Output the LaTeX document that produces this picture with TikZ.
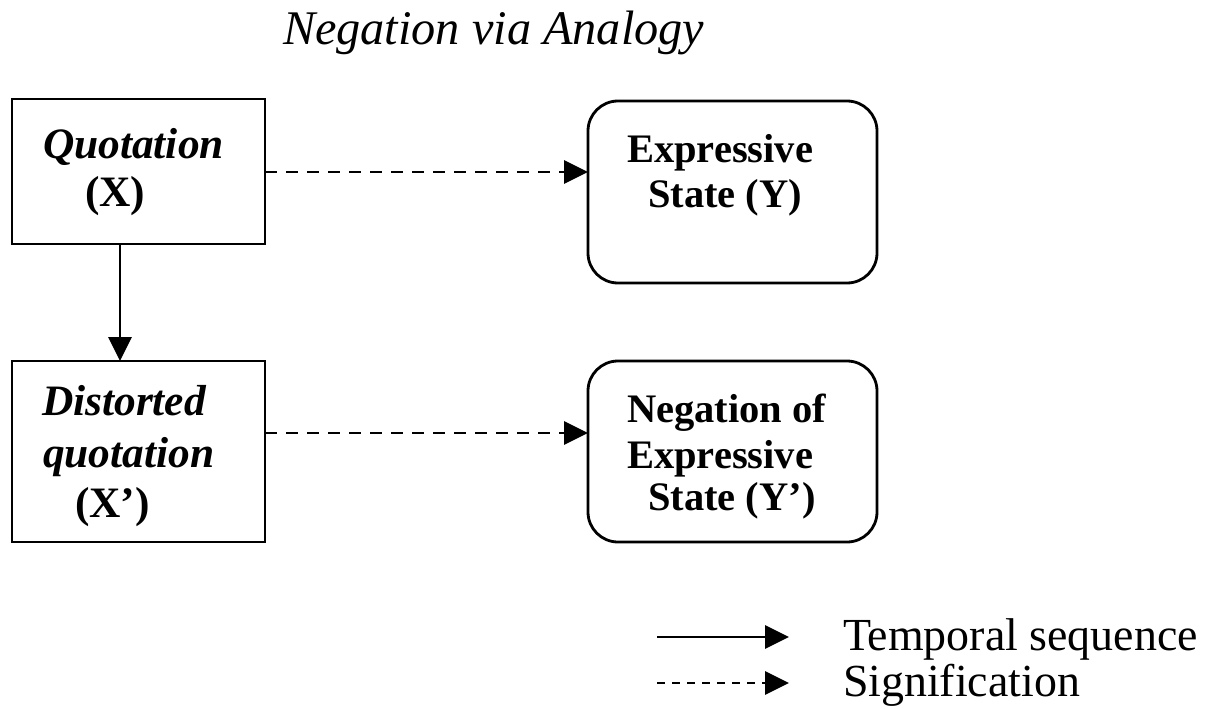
\documentclass[tikz,border=0pt]{standalone}
\usepackage{fontspec}
\setmainfont{Liberation Serif}
\usetikzlibrary{arrows.meta}
\begin{document}
\begin{tikzpicture}[x=1pt,y=-1pt,
  box/.style={draw,line width=2.8pt,inner sep=0pt,outer sep=0pt},
  rbox/.style={box,rounded corners=30pt},
  txt/.style={anchor=base west,inner sep=0pt,outer sep=0pt},
  ltxt/.style={txt,font=\fontsize{43.4}{48}\selectfont\bfseries},
  rtxt/.style={txt,font=\fontsize{40.5}{46}\selectfont\bfseries},
  tip/.style={-{Triangle[length=24pt,width=23pt]}},
  conn/.style={line width=2.8pt,tip},
  dconn/.style={conn,dash pattern=on 12pt off 9pt}]
\useasboundingbox (0,0) rectangle (1211,709);
% title
\node[txt,font=\fontsize{48.3}{52}\selectfont\itshape] (title) at (283,45) {Negation via Analogy};
% boxes
\node[box,minimum width=253pt,minimum height=145pt] (q) at (138.5,171.5) {};
\node[box,minimum width=253pt,minimum height=181pt] (dq) at (138.5,451.5) {};
\node[rbox,minimum width=289pt,minimum height=182pt] (y) at (732.5,192) {};
\node[rbox,minimum width=289pt,minimum height=181pt] (ny) at (732.5,451.5) {};
% texts
\node[ltxt] (q1) at (43,158) {\itshape Quotation};
\node[ltxt] (q2) at (85,206) {(X)};
\node[ltxt] (d1) at (42,415) {\itshape Distorted};
\node[ltxt] (d2) at (43,467) {\itshape quotation};
\node[ltxt] (d3) at (75,517) {(X’)};
\node[rtxt] (y1) at (627,162) {Expressive};
\node[rtxt] (y2) at (648,207) {State (Y)};
\node[rtxt] (n1) at (627,422) {Negation of};
\node[rtxt] (n2) at (627,468) {Expressive};
\node[rtxt] (n3) at (648,510) {State (Y’)};
% connectors
\draw[conn] (q.south -| 120,0) -- (dq.north -| 120,0);
\draw[dconn] (q.east |- 0,172) -- (y.west |- 0,172);
\draw[dconn] (dq.east |- 0,433) -- (ny.west |- 0,433);
% legend
\coordinate (l1a) at (657,637);
\coordinate (l1b) at (789,637);
\coordinate (l2a) at (657,683);
\coordinate (l2b) at (789,683);
\draw[conn] (l1a) -- (l1b);
\draw[line width=2.8pt,dash pattern=on 8pt off 7pt,tip] (l2a) -- (l2b);
\node[txt,font=\fontsize{45.9}{50}\selectfont] (lt1) at (843,650) {Temporal sequence};
\node[txt,font=\fontsize{45.9}{50}\selectfont] (lt2) at (843,696) {Signification};
\end{tikzpicture}
\end{document}
